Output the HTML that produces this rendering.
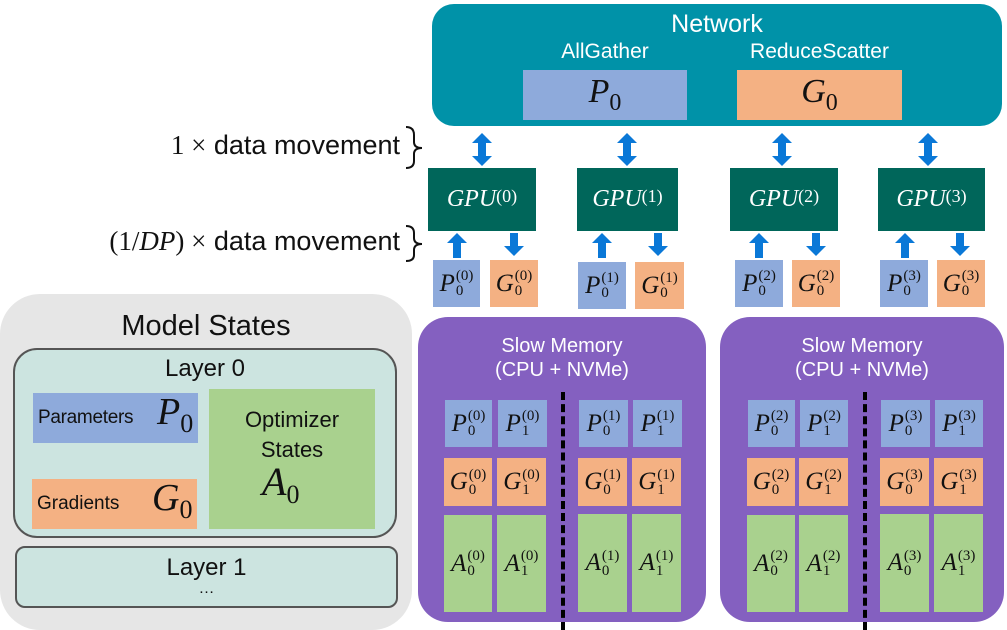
<!DOCTYPE html>
<html><head><meta charset="utf-8"><style>
*{margin:0;padding:0;box-sizing:border-box}
body{width:1007px;height:630px;background:#fff;position:relative;overflow:hidden;font-family:"Liberation Sans","DejaVu Sans",sans-serif}
.a{position:absolute}
.c{display:flex;align-items:center;justify-content:center}
.m{font-family:"Liberation Serif",serif;font-style:italic;color:#111}
.v{display:inline-flex;align-items:center;font-family:"Liberation Serif",serif;font-size:25px;color:#111}
.v i{font-style:italic}
.ss{display:inline-flex;flex-direction:column;font-size:15px;line-height:14px;margin-left:1px;font-style:normal}
.ss span:first-child{margin-bottom:1px}
.bl{background:#8eaadb}.or{background:#f4b183}.gr{background:#a9d18e}
.gpu{background:#00665a;color:#fff;font-family:"Liberation Serif",serif;font-style:italic;font-size:24px}
.gpu sup{font-style:normal;font-size:18px;position:relative;top:-3px}
.pur{background:#8460c0;border-radius:30px;color:#fff;text-align:center;font-size:19px;line-height:24px}
.sb{font-style:normal;position:relative;top:8px}
</style></head><body>

<!-- Network -->
<div class="a" style="left:432px;top:4px;width:570px;height:122px;background:#0092a8;border-radius:22px"></div>
<div class="a" style="left:432px;top:10px;width:570px;text-align:center;color:#fff;font-size:25px">Network</div>
<div class="a" style="left:523px;top:40px;width:164px;text-align:center;color:#fff;font-size:21px">AllGather</div>
<div class="a" style="left:737px;top:40px;width:165px;text-align:center;color:#fff;font-size:21px">ReduceScatter</div>
<div class="a bl m" style="left:523px;top:70px;width:164px;height:50px;font-size:34px;text-align:center;line-height:44px">P<span class="sb" style="font-size:24px">0</span></div>
<div class="a or m" style="left:737px;top:70px;width:165px;height:50px;font-size:34px;text-align:center;line-height:44px">G<span class="sb" style="font-size:24px">0</span></div>

<!-- left labels -->
<div class="a" style="left:0;width:400px;text-align:right;top:130px;font-size:27px;color:#111;white-space:nowrap"><span class="m" style="font-style:normal">1 ×</span> data movement</div>
<div class="a" style="left:0;width:400px;text-align:right;top:226px;font-size:27px;color:#111;white-space:nowrap"><span class="m" style="font-style:normal">(1/<i>DP</i>) ×</span> data movement</div>

<svg class="a" style="left:0;top:0" width="1007" height="630">
<g fill="none" stroke="#111" stroke-width="2">
<path d="M406 127 Q414 127 414 135 L414 142 Q414 148 422 148 Q414 148 414 154 L414 161 Q414 168 406 168"/>
<path d="M406 226 Q414 226 414 233 L414 238 Q414 244 422 244 Q414 244 414 250 L414 255 Q414 261 406 261"/>
</g>
<g fill="#0a78d7">
<g id="da"><polygon points="482,133 492,143 486,143 486,156 492,156 482,166 472,156 478,156 478,143 472,143"/></g>
<use href="#da" x="145"/><use href="#da" x="300"/><use href="#da" x="446"/>
<g id="up"><polygon points="457,233 467,243 461,243 461,258 453,258 453,243 447,243"/></g>
<use href="#up" x="145"/><use href="#up" x="302"/><use href="#up" x="448"/>
<g id="dn"><polygon points="514,256 524,246 518,246 518,233 510,233 510,246 504,246"/></g>
<use href="#dn" x="144"/><use href="#dn" x="302"/><use href="#dn" x="446"/>
</g>
</svg>

<!-- GPUs -->
<div class="a c gpu" style="left:428px;top:168px;width:108px;height:63px">GPU<sup>(0)</sup></div>
<div class="a c gpu" style="left:577px;top:168px;width:101px;height:63px">GPU<sup>(1)</sup></div>
<div class="a c gpu" style="left:730px;top:168px;width:108px;height:63px">GPU<sup>(2)</sup></div>
<div class="a c gpu" style="left:878px;top:168px;width:107px;height:63px">GPU<sup>(3)</sup></div>

<!-- small P/G under GPUs -->
<div class="a c bl v" style="left:433px;top:260px;width:47px;height:47px"><i>P</i><span class="ss"><span>(0)</span><span>0</span></span></div>
<div class="a c or v" style="left:490px;top:260px;width:48px;height:47px"><i>G</i><span class="ss"><span>(0)</span><span>0</span></span></div>
<div class="a c bl v" style="left:578px;top:262px;width:48px;height:47px"><i>P</i><span class="ss"><span>(1)</span><span>0</span></span></div>
<div class="a c or v" style="left:635px;top:262px;width:49px;height:47px"><i>G</i><span class="ss"><span>(1)</span><span>0</span></span></div>
<div class="a c bl v" style="left:735px;top:260px;width:48px;height:47px"><i>P</i><span class="ss"><span>(2)</span><span>0</span></span></div>
<div class="a c or v" style="left:792px;top:260px;width:48px;height:47px"><i>G</i><span class="ss"><span>(2)</span><span>0</span></span></div>
<div class="a c bl v" style="left:880px;top:260px;width:48px;height:47px"><i>P</i><span class="ss"><span>(3)</span><span>0</span></span></div>
<div class="a c or v" style="left:937px;top:260px;width:48px;height:47px"><i>G</i><span class="ss"><span>(3)</span><span>0</span></span></div>

<!-- Model States -->
<div class="a" style="left:0;top:294px;width:412px;height:336px;background:#e6e6e6;border-radius:40px"></div>
<div class="a" style="left:0;top:310px;width:412px;text-align:center;font-size:29px;color:#111">Model States</div>
<div class="a" style="left:13px;top:348px;width:384px;height:190px;background:#cce4e0;border:2px solid #555;border-radius:24px"></div>
<div class="a" style="left:13px;top:355px;width:384px;text-align:center;font-size:24px;color:#111">Layer 0</div>
<div class="a bl" style="left:33px;top:393px;width:165px;height:50px"></div>
<div class="a" style="left:38px;top:407px;font-size:19px;color:#111;letter-spacing:-0.3px">Parameters</div>
<div class="a m" style="left:157px;top:390px;font-size:38px">P<span class="sb" style="font-size:26px">0</span></div>
<div class="a or" style="left:32px;top:479px;width:165px;height:50px"></div>
<div class="a" style="left:37px;top:493px;font-size:19px;color:#111">Gradients</div>
<div class="a m" style="left:152px;top:476px;font-size:38px">G<span class="sb" style="font-size:26px">0</span></div>
<div class="a gr" style="left:209px;top:389px;width:166px;height:140px"></div>
<div class="a" style="left:209px;top:405px;width:166px;text-align:center;font-size:22px;line-height:30px;color:#111">Optimizer<br>States</div>
<div class="a m" style="left:262px;top:458px;font-size:40px">A<span class="sb" style="font-size:26px">0</span></div>
<div class="a" style="left:15px;top:546px;width:383px;height:62px;background:#cce4e0;border:2px solid #555;border-radius:10px"></div>
<div class="a" style="left:15px;top:554px;width:383px;text-align:center;font-size:24px;color:#111">Layer 1</div>
<div class="a" style="left:15px;top:580px;width:383px;text-align:center;font-size:16px;color:#111">…</div>

<!-- Slow memory -->
<div class="a pur" style="left:418px;top:317px;width:288px;height:305px;padding-top:17px;font-size:20px">Slow Memory<br>(CPU + NVMe)</div>
<div class="a pur" style="left:720px;top:317px;width:284px;height:305px;padding-top:17px;font-size:20px">Slow Memory<br>(CPU + NVMe)</div>
<div class="a" style="left:561px;top:392px;width:0;height:238px;border-left:4px dashed #000"></div>
<div class="a" style="left:863px;top:392px;width:0;height:238px;border-left:4px dashed #000"></div>

<div class="a c bl v" style="left:445px;top:400px;width:47px;height:47px"><i>P</i><span class="ss"><span>(0)</span><span>0</span></span></div>
<div class="a c bl v" style="left:498px;top:400px;width:49px;height:47px"><i>P</i><span class="ss"><span>(0)</span><span>1</span></span></div>
<div class="a c or v" style="left:444px;top:458px;width:48px;height:48px"><i>G</i><span class="ss"><span>(0)</span><span>0</span></span></div>
<div class="a c or v" style="left:497px;top:458px;width:49px;height:48px"><i>G</i><span class="ss"><span>(0)</span><span>1</span></span></div>
<div class="a c gr v" style="left:444px;top:515px;width:48px;height:97px"><i>A</i><span class="ss"><span>(0)</span><span>0</span></span></div>
<div class="a c gr v" style="left:497px;top:515px;width:49px;height:97px"><i>A</i><span class="ss"><span>(0)</span><span>1</span></span></div>

<div class="a c bl v" style="left:579px;top:400px;width:49px;height:47px"><i>P</i><span class="ss"><span>(1)</span><span>0</span></span></div>
<div class="a c bl v" style="left:633px;top:400px;width:49px;height:47px"><i>P</i><span class="ss"><span>(1)</span><span>1</span></span></div>
<div class="a c or v" style="left:578px;top:458px;width:49px;height:48px"><i>G</i><span class="ss"><span>(1)</span><span>0</span></span></div>
<div class="a c or v" style="left:632px;top:458px;width:49px;height:48px"><i>G</i><span class="ss"><span>(1)</span><span>1</span></span></div>
<div class="a c gr v" style="left:578px;top:514px;width:49px;height:98px"><i>A</i><span class="ss"><span>(1)</span><span>0</span></span></div>
<div class="a c gr v" style="left:632px;top:514px;width:49px;height:98px"><i>A</i><span class="ss"><span>(1)</span><span>1</span></span></div>

<div class="a c bl v" style="left:748px;top:400px;width:47px;height:47px"><i>P</i><span class="ss"><span>(2)</span><span>0</span></span></div>
<div class="a c bl v" style="left:800px;top:400px;width:48px;height:47px"><i>P</i><span class="ss"><span>(2)</span><span>1</span></span></div>
<div class="a c or v" style="left:747px;top:458px;width:48px;height:48px"><i>G</i><span class="ss"><span>(2)</span><span>0</span></span></div>
<div class="a c or v" style="left:799px;top:458px;width:49px;height:48px"><i>G</i><span class="ss"><span>(2)</span><span>1</span></span></div>
<div class="a c gr v" style="left:747px;top:515px;width:48px;height:97px"><i>A</i><span class="ss"><span>(2)</span><span>0</span></span></div>
<div class="a c gr v" style="left:799px;top:515px;width:49px;height:97px"><i>A</i><span class="ss"><span>(2)</span><span>1</span></span></div>

<div class="a c bl v" style="left:881px;top:400px;width:49px;height:47px"><i>P</i><span class="ss"><span>(3)</span><span>0</span></span></div>
<div class="a c bl v" style="left:935px;top:400px;width:48px;height:47px"><i>P</i><span class="ss"><span>(3)</span><span>1</span></span></div>
<div class="a c or v" style="left:880px;top:458px;width:49px;height:48px"><i>G</i><span class="ss"><span>(3)</span><span>0</span></span></div>
<div class="a c or v" style="left:934px;top:458px;width:49px;height:48px"><i>G</i><span class="ss"><span>(3)</span><span>1</span></span></div>
<div class="a c gr v" style="left:880px;top:514px;width:49px;height:98px"><i>A</i><span class="ss"><span>(3)</span><span>0</span></span></div>
<div class="a c gr v" style="left:934px;top:514px;width:49px;height:98px"><i>A</i><span class="ss"><span>(3)</span><span>1</span></span></div>

</body></html>
